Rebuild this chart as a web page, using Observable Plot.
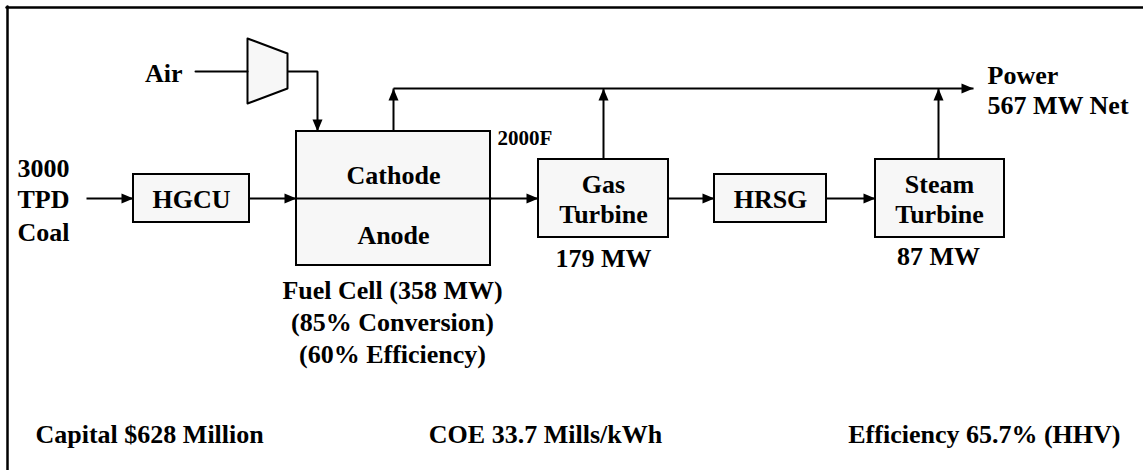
<!DOCTYPE html>
<html><head><meta charset="utf-8">
<script src="https://cdn.jsdelivr.net/npm/d3@7"></script>
<script src="https://cdn.jsdelivr.net/npm/@observablehq/plot@0.6"></script>
<style>
body{margin:0;background:#fff}
</style>
</head><body>
<script>
// Diagram components (layout units = page pixels)
const boxes = [
  {name: "HGCU", x1: 133, x2: 249, y1: 174, y2: 222},
  {name: "Fuel Cell", x1: 296, x2: 490, y1: 131, y2: 265},
  {name: "Gas Turbine", x1: 538, x2: 668, y1: 159, y2: 237},
  {name: "HRSG", x1: 714, x2: 826, y1: 174, y2: 222},
  {name: "Steam Turbine", x1: 875, x2: 1004, y1: 159, y2: 237}
];
const compressor = [[247, 38], [287, 53], [287, 88], [247, 103], [247, 38]];
const frameLines = [
  {name: "top", points: [[6, 7], [1143, 7]]},
  {name: "left", points: [[7, 6], [7, 470]]}
];
const plainLines = [
  {name: "air in", points: [[195, 71], [247, 71]]},
  {name: "fc divider", points: [[296, 198], [490, 198]]}
];
const arrows = [
  {name: "air to cathode", points: [[287, 71], [317, 71], [317, 131]]},
  {name: "coal to hgcu", points: [[86, 198], [133, 198]]},
  {name: "hgcu to fc", points: [[249, 198], [296, 198]]},
  {name: "fc to gt", points: [[490, 198], [538, 198]]},
  {name: "fc power", points: [[393, 131], [393, 88]]},
  {name: "power bus", points: [[393, 88], [973, 88]]},
  {name: "gt power", points: [[603, 159], [603, 88]]},
  {name: "gt to hrsg", points: [[668, 198], [714, 198]]},
  {name: "hrsg to st", points: [[826, 198], [875, 198]]},
  {name: "st power", points: [[938, 159], [938, 88]]}
];
const labels = [
  {text: "Air", x: 182, y: 73, anchor: "end", size: 26},
  {text: "3000", x: 17, y: 168, anchor: "start", size: 26},
  {text: "TPD", x: 17, y: 199, anchor: "start", size: 26},
  {text: "Coal", x: 17, y: 232, anchor: "start", size: 26},
  {text: "HGCU", x: 191, y: 199, anchor: "middle", size: 26},
  {text: "Cathode", x: 393, y: 175, anchor: "middle", size: 26},
  {text: "Anode", x: 393, y: 235, anchor: "middle", size: 26},
  {text: "2000F", x: 497, y: 138, anchor: "start", size: 21},
  {text: "Gas", x: 603, y: 184, anchor: "middle", size: 26},
  {text: "Turbine", x: 603, y: 214, anchor: "middle", size: 26},
  {text: "179 MW", x: 603, y: 258, anchor: "middle", size: 26},
  {text: "HRSG", x: 770, y: 199, anchor: "middle", size: 26},
  {text: "Steam", x: 939, y: 184, anchor: "middle", size: 26},
  {text: "Turbine", x: 939, y: 214, anchor: "middle", size: 26},
  {text: "87 MW", x: 938, y: 256, anchor: "middle", size: 26},
  {text: "Power", x: 987, y: 75, anchor: "start", size: 26},
  {text: "567 MW Net", x: 987, y: 105, anchor: "start", size: 26},
  {text: "Fuel Cell (358 MW)", x: 392, y: 290, anchor: "middle", size: 26},
  {text: "(85% Conversion)", x: 392, y: 322, anchor: "middle", size: 26},
  {text: "(60% Efficiency)", x: 392, y: 354, anchor: "middle", size: 26},
  {text: "Capital $628 Million", x: 35, y: 434, anchor: "start", size: 26},
  {text: "COE 33.7 Mills/kWh", x: 545, y: 434, anchor: "middle", size: 26},
  {text: "Efficiency 65.7% (HHV)", x: 1120, y: 434, anchor: "end", size: 26}
];

const toRows = (list) => list.flatMap((l) => l.points.map(([x, y]) => ({name: l.name, x, y})));
const heads = arrows.map((a) => {
  const [x0, y0] = a.points[a.points.length - 2];
  const [x1, y1] = a.points[a.points.length - 1];
  return {name: a.name, x: x1, y: y1, angle: Math.atan2(y1 - y0, x1 - x0) * 180 / Math.PI};
});
const arrowSymbol = {draw(ctx) { ctx.moveTo(0, 0); ctx.lineTo(-12, -5); ctx.lineTo(-12, 5); ctx.closePath(); }};
const font = "Liberation Serif, Tinos, Times New Roman, Nimbus Roman, DejaVu Serif, serif";
const boxFill = "#f7f7f7";

const textMarks = [21, 26].map((s) => ["start", "middle", "end"].map((anc) =>
  Plot.text(labels.filter((d) => d.size === s && d.anchor === anc), {
    x: "x", y: "y", text: "text", textAnchor: anc, fontSize: s,
    fontFamily: font, fontWeight: "bold", fill: "black"
  }))).flat();

const chart = Plot.plot({
  width: 1143, height: 470,
  marginTop: 0, marginRight: 0, marginBottom: 0, marginLeft: 0,
  x: {domain: [0, 1143], axis: null},
  y: {domain: [0, 470], reverse: true, axis: null},
  style: {background: "#fff"},
  marks: [
    Plot.line(toRows(frameLines), {x: "x", y: "y", z: "name", stroke: "black", strokeWidth: 2.5, curve: "linear"}),
    Plot.line(compressor.map(([x, y]) => ({x, y})), {x: "x", y: "y", fill: boxFill, stroke: "black", strokeWidth: 2, curve: "linear-closed"}),
    Plot.line(toRows(plainLines), {x: "x", y: "y", z: "name", stroke: "black", strokeWidth: 2}),
    Plot.rect(boxes, {x1: "x1", x2: "x2", y1: "y1", y2: "y2", fill: boxFill, stroke: "black", strokeWidth: 2}),
    Plot.line(toRows(plainLines.filter((d) => d.name === "fc divider")), {x: "x", y: "y", stroke: "black", strokeWidth: 2}),
    Plot.line(toRows(arrows), {x: "x", y: "y", z: "name", stroke: "black", strokeWidth: 2, strokeLinejoin: "miter", strokeLinecap: "butt"}),
    Plot.dot(heads, {x: "x", y: "y", rotate: "angle", symbol: arrowSymbol, fill: "black", stroke: "none", r: 5}),
    ...textMarks
  ]
});
chart.querySelectorAll("text").forEach((t) => { t.style.fontFamily = "'Liberation Serif', 'DejaVu Serif', serif"; });
document.body.appendChild(chart);
</script>
</body></html>
